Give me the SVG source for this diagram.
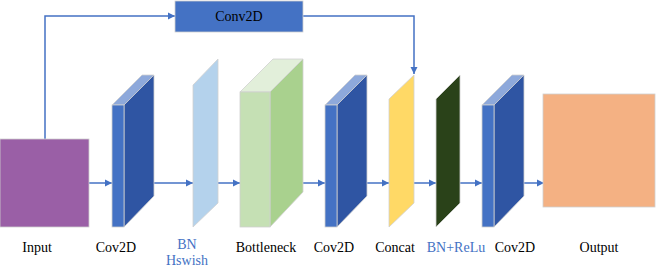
<svg xmlns="http://www.w3.org/2000/svg" width="656" height="268" viewBox="0 0 656 268">
<style>
.ln{fill:none;stroke:#4472C4;stroke-width:1.5}
.sh{stroke:#D0D0D0;stroke-width:0.8}
text{font-family:"Liberation Serif","Times New Roman",serif;font-size:14px;text-anchor:middle;fill:#000}
text.bl{fill:#4472C4}
.front{fill:#4472C4}
.side{fill:#2F55A3}
.top{fill:#8EA9DB}
</style>
<defs>
<marker id="ah" viewBox="0 0 10 10" refX="10" refY="5" markerWidth="5" markerHeight="5" orient="auto" markerUnits="strokeWidth">
<path d="M0,0 L10,5 L0,10 z" fill="#4472C4"/>
</marker>
</defs>
<g id="connectors">
<path class="ln" d="M45,139 V16 H175" marker-end="url(#ah)"/>
<path class="ln" d="M303,16 H414 V74" marker-end="url(#ah)"/>
<path class="ln" d="M89,183 H112" marker-end="url(#ah)"/>
<path class="ln" d="M154,183 H193" marker-end="url(#ah)"/>
<path class="ln" d="M218,183 H240" marker-end="url(#ah)"/>
<path class="ln" d="M303,183 H325" marker-end="url(#ah)"/>
<path class="ln" d="M367,183 H389" marker-end="url(#ah)"/>
<path class="ln" d="M414,183 H436" marker-end="url(#ah)"/>
<path class="ln" d="M460,183 H482" marker-end="url(#ah)"/>
<path class="ln" d="M524,183 H544" marker-end="url(#ah)"/>
</g>
<g id="conv2d-top">
<rect class="sh" x="175" y="1" width="128" height="31" fill="#4472C4"/>
<text x="239" y="21">Conv2D</text>
</g>
<g id="input">
<rect class="sh" x="0" y="139" width="89" height="88" fill="#9A5FA6"/>
<text x="37" y="252">Input</text>
</g>
<g id="cov2d-1">
<polygon class="sh top" points="112,105 124,105 154,75 142,75"/>
<polygon class="sh side" points="124,105 154,75 154,196 124,227"/>
<rect class="sh front" x="112" y="105" width="12" height="122"/>
<text x="116" y="252">Cov2D</text>
</g>
<g id="bn-hswish">
<polygon class="sh" points="193,85 218,59 218,203 193,227" fill="#B4D2EC"/>
<text class="bl" x="187" y="249">BN</text>
<text class="bl" x="187" y="265">Hswish</text>
</g>
<g id="bottleneck">
<polygon class="sh" points="240,92 270,92 303,59 273,59" fill="#E2EFDA"/>
<polygon class="sh" points="270,92 303,59 303,192 270,227" fill="#A9D18E"/>
<rect class="sh" x="240" y="92" width="30" height="135" fill="#C5E0B4"/>
<text x="266" y="252">Bottleneck</text>
</g>
<g id="cov2d-2">
<polygon class="sh top" points="325,105 337,105 367,75 355,75"/>
<polygon class="sh side" points="337,105 367,75 367,196 337,227"/>
<rect class="sh front" x="325" y="105" width="12" height="122"/>
<text x="334" y="252">Cov2D</text>
</g>
<g id="concat">
<polygon class="sh" points="389,99 414,75 414,203 389,227" fill="#FFD966"/>
<text x="395" y="252">Concat</text>
</g>
<g id="bn-relu">
<polygon class="sh" points="436,99 460,75 460,203 436,227" fill="#2A4219"/>
<text class="bl" x="456" y="252">BN+ReLu</text>
</g>
<g id="cov2d-3">
<polygon class="sh top" points="482,105 494,105 524,75 512,75"/>
<polygon class="sh side" points="494,105 524,75 524,196 494,227"/>
<rect class="sh front" x="482" y="105" width="12" height="122"/>
<text x="515" y="252">Cov2D</text>
</g>
<g id="output">
<rect class="sh" x="543" y="94" width="112" height="113" fill="#F4B183"/>
<text x="599" y="252">Output</text>
</g>
</svg>
